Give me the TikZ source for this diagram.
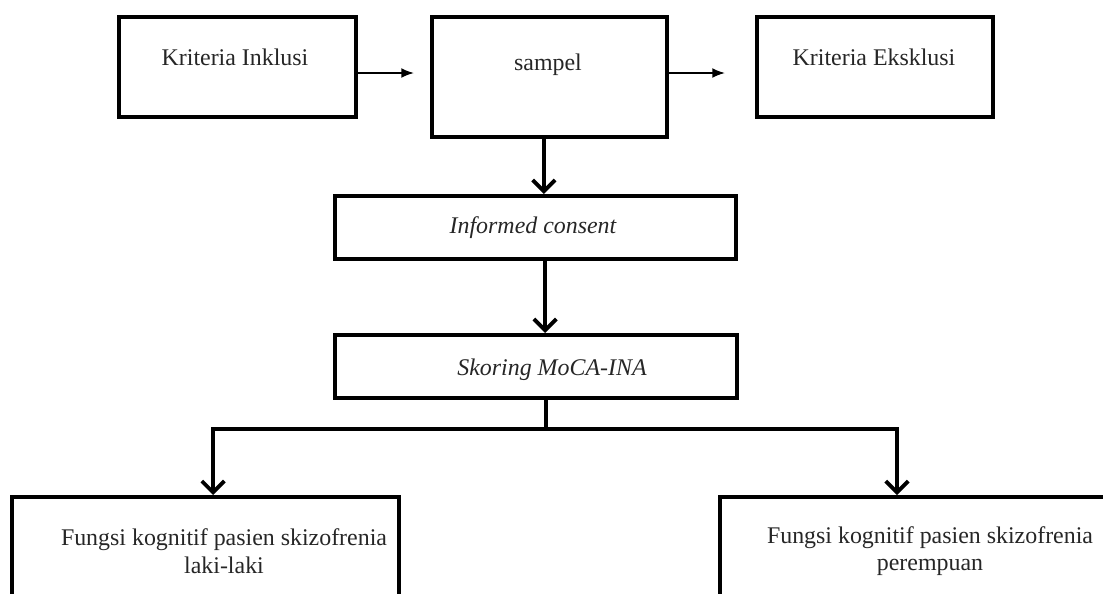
\documentclass[tikz,border=0pt]{standalone}
\usepackage{fontspec}
\setmainfont{Liberation Serif}
\usepackage{tikz}
\usetikzlibrary{arrows.meta}

\begin{document}
\begin{tikzpicture}[x=0.025cm,y=-0.025cm,
   box/.style={draw,line width=2.9pt,inner sep=0pt},
   txt/.style={text=black!85,font=\fontsize{17}{19.5}\selectfont,align=center,inner sep=0pt},
   thinarr/.style={line width=1.1pt,-{Latex[length=9pt,width=7pt]}},
   flow/.style={line width=2.7pt,-{Straight Barb[length=8pt,width=16pt]}}]
   \useasboundingbox (0,0) rectangle (1103,593);
   \clip (0,0) rectangle (1103,593);

   \node[box,minimum width=5.925cm,minimum height=2.5cm] (inkl) at (237.5,67) {};
   \node[box,minimum width=5.875cm,minimum height=3cm]   (smp)  at (549.5,77) {};
   \node[box,minimum width=5.9cm,minimum height=2.5cm]   (eks)  at (875,67) {};
   \node[box,minimum width=10.025cm,minimum height=1.575cm] (ic)   at (535.5,227.5) {};
   \node[box,minimum width=10.05cm,minimum height=1.575cm]  (moca) at (536,366.5) {};
   \node[box,anchor=north,minimum width=9.675cm,minimum height=4cm] (lk) at (205.5,495) {};
   \node[box,anchor=north,minimum width=10.5cm,minimum height=4cm]  (pr) at (930,495) {};

   \node[txt] (inklT) at (235,57) {Kriteria Inklusi};
   \node[txt] (smpT)  at (548,65) {sampel};
   \node[txt] (eksT)  at (874,57) {Kriteria Eksklusi};
   \node[txt] (icT)   at (533,228) {\itshape Informed consent};
   \node[txt] (mocaT) at (552,370) {\itshape Skoring MoCA-INA};
   \node[txt] (lkT)   at (224,551) {Fungsi kognitif pasien skizofrenia\\laki-laki};
   \node[txt] (prT)   at (930,551) {Fungsi kognitif pasien skizofrenia\\perempuan};

   \coordinate (split) at (546,429);

   \draw[thinarr,shorten >=0.4cm] ([yshift=-0.15cm]inkl.east) -- ([yshift=0.1cm]smp.west);
   \draw[thinarr,shorten >=0.75cm] ([yshift=0.1cm]smp.east) -- ([yshift=-0.15cm]eks.west);
   \draw[flow] ([xshift=-0.14cm]smp.south) -- ([xshift=-0.14cm]smp.south |- ic.north);
   \draw[flow] ([xshift=0.24cm]ic.south) -- ([xshift=0.24cm]ic.south |- moca.north);
   \draw[line width=2.7pt] (moca.south -| split) -- (split);
   \draw[flow] (split) -| ([xshift=0.19cm]lk.north);
   \draw[flow] (split) -| ([xshift=-0.825cm]pr.north);
\end{tikzpicture}
\end{document}
